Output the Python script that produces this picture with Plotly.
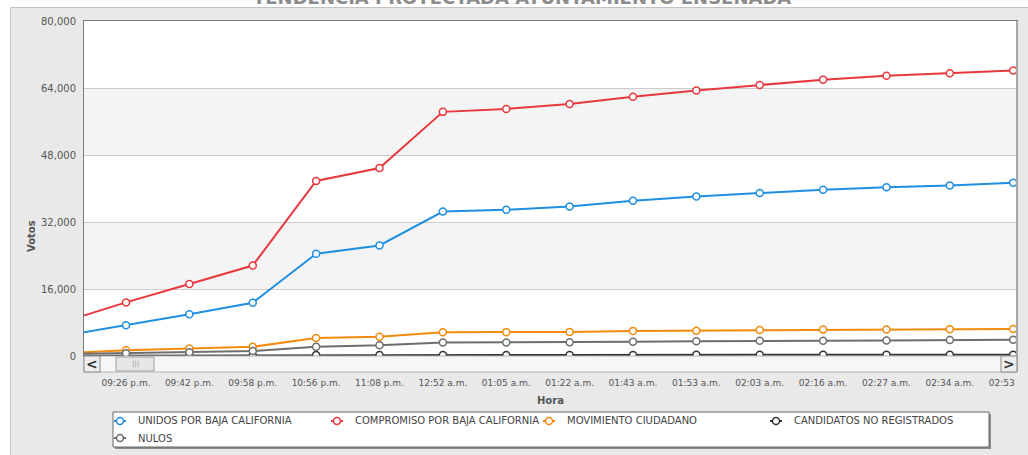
import plotly.graph_objects as go

# ---- data ----
hours = ["09:10 p.m.", "09:26 p.m.", "09:42 p.m.", "09:58 p.m.", "10:56 p.m.", "11:08 p.m.",
         "12:52 a.m.", "01:05 a.m.", "01:22 a.m.", "01:43 a.m.", "01:53 a.m.", "02:03 a.m.",
         "02:16 a.m.", "02:27 a.m.", "02:34 a.m.", "02:53 a.m."]
unidos = [4800, 7350, 9950, 12700, 24400, 26400, 34500, 34900, 35700, 37100, 38100, 38900,
          39700, 40300, 40700, 41400]
compromiso = [8100, 12800, 17200, 21600, 41800, 44900, 58300, 59000, 60200, 61900, 63400,
              64700, 66000, 66900, 67500, 68200]
movimiento = [670, 1350, 1800, 2200, 4300, 4600, 5650, 5700, 5750, 6000, 6050, 6200, 6300,
              6350, 6380, 6450]
no_registrados = [40, 90, 130, 170, 210, 230, 250, 255, 260, 265, 270, 272, 275, 280, 283, 288]
nulos = [420, 640, 900, 1200, 2200, 2550, 3250, 3250, 3300, 3400, 3500, 3650, 3650, 3700,
         3800, 3900]

series_names = ["UNIDOS POR BAJA CALIFORNIA", "COMPROMISO POR BAJA CALIFORNIA",
                "MOVIMIENTO CIUDADANO", "CANDIDATOS NO REGISTRADOS", "NULOS"]
series_values = [unidos, compromiso, movimiento, no_registrados, nulos]
series_colors = ["#1e8fe1", "#e8383d", "#f28a0f", "#333333", "#6e6e6e"]

y_ticks = [0, 16000, 32000, 48000, 64000, 80000]
title_text = "TENDENCIA PROYECTADA AYUNTAMIENTO ENSENADA"

FONT = "DejaVu Sans"
W, H = 1028, 455
ML, MR, MT, MB = 84, 11, 21, 99
PW, PH = W - ML - MR, H - MT - MB
PANEL = "#e9e9e9"


def px_x(p):
    return (p - ML) / PW


def px_y(p):
    return (H - MB - p) / PH


idx = list(range(-1, len(hours) - 1))

fig = go.Figure()
for name, vals, col in zip(series_names, series_values, series_colors):
    fig.add_trace(go.Scatter(
        x=idx, y=vals, name=name, mode="lines+markers",
        line=dict(color=col, width=2),
        marker=dict(symbol="circle", size=7, color="white", line=dict(color=col, width=1.5)),
    ))

shapes = []
# white page strips outside the grey panel
shapes.append(dict(type="rect", xref="paper", yref="paper", layer="below",
                   x0=px_x(-5), x1=px_x(1035), y0=px_y(7), y1=px_y(-5),
                   fillcolor="white", line=dict(width=0)))
shapes.append(dict(type="rect", xref="paper", yref="paper", layer="below",
                   x0=px_x(-5), x1=px_x(10), y0=px_y(460), y1=px_y(-5),
                   fillcolor="white", line=dict(width=0)))
# panel border lines
shapes.append(dict(type="line", xref="paper", yref="paper", layer="below",
                   x0=px_x(10), x1=px_x(1030), y0=px_y(7.5), y1=px_y(7.5),
                   line=dict(color="#c4c4c4", width=1)))
shapes.append(dict(type="line", xref="paper", yref="paper", layer="below",
                   x0=px_x(10.5), x1=px_x(10.5), y0=px_y(7.5), y1=px_y(460),
                   line=dict(color="#c4c4c4", width=1)))
# white plot area
shapes.append(dict(type="rect", xref="paper", yref="paper", layer="below",
                   x0=0, x1=1, y0=0, y1=1, fillcolor="white", line=dict(width=0)))
# alternate bands
for a, b in [(16000, 32000), (48000, 64000)]:
    shapes.append(dict(type="rect", xref="paper", yref="y", layer="below",
                       x0=0, x1=1, y0=a, y1=b, fillcolor="#f4f4f4", line=dict(width=0)))
# right plot border (thicker grey)
shapes.append(dict(type="line", xref="paper", yref="paper", layer="above",
                   x0=1, x1=1, y0=px_y(372), y1=1, line=dict(color="#a8a8a8", width=2)))
# scrollbar track
shapes.append(dict(type="rect", xref="paper", yref="paper", layer="above",
                   x0=0, x1=1, y0=px_y(356), y1=px_y(372),
                   fillcolor="#f6f6f6", line=dict(color="#b5b5b5", width=1)))
# left button
shapes.append(dict(type="rect", xref="paper", yref="paper", layer="above",
                   x0=0, x1=px_x(100), y0=px_y(356), y1=px_y(372),
                   fillcolor="#eeeeee", line=dict(color="#8a8a8a", width=1)))
# right button
shapes.append(dict(type="rect", xref="paper", yref="paper", layer="above",
                   x0=px_x(1001), x1=1, y0=px_y(356), y1=px_y(372),
                   fillcolor="#eeeeee", line=dict(color="#8a8a8a", width=1)))
# thumb
shapes.append(dict(type="rect", xref="paper", yref="paper", layer="above",
                   x0=px_x(116), x1=px_x(154), y0=px_y(357), y1=px_y(371),
                   fillcolor="#e6e6e6", line=dict(color="#a0a0a0", width=1)))
# cover the overflow of the last tick label (clipped in reference)
shapes.append(dict(type="rect", xref="paper", yref="paper", layer="above",
                   x0=px_x(1017), x1=px_x(1035), y0=px_y(373), y1=px_y(392),
                   fillcolor=PANEL, line=dict(width=0)))
# legend box with shadow
shapes.append(dict(type="rect", xref="paper", yref="paper", layer="below",
                   x0=px_x(115), x1=px_x(991), y0=px_y(449), y1=px_y(414),
                   fillcolor="#8c8c8c", line=dict(width=0)))
shapes.append(dict(type="rect", xref="paper", yref="paper", layer="below",
                   x0=px_x(113), x1=px_x(989), y0=px_y(447), y1=px_y(412),
                   fillcolor="white", line=dict(color="#666666", width=1)))

annotations = [
    dict(text=title_text, xref="paper", yref="paper", x=px_x(522), y=px_y(10),
         xanchor="center", yanchor="bottom", showarrow=False,
         font=dict(family=FONT, size=18, color="#8c8c8c", weight="bold")),
    dict(text="Votos", xref="paper", yref="paper", x=px_x(31), y=px_y(236),
         xanchor="center", yanchor="middle", showarrow=False, textangle=-90,
         font=dict(family=FONT, size=10, color="#555555", weight="bold")),
    dict(text="Hora", xref="paper", yref="paper", x=px_x(550), y=px_y(400),
         xanchor="center", yanchor="middle", showarrow=False,
         font=dict(family=FONT, size=10, color="#555555", weight="bold")),
    dict(text="<", xref="paper", yref="paper", x=px_x(92), y=px_y(364),
         xanchor="center", yanchor="middle", showarrow=False,
         font=dict(family=FONT, size=14, color="#333333", weight="bold")),
    dict(text=">", xref="paper", yref="paper", x=px_x(1009), y=px_y(364),
         xanchor="center", yanchor="middle", showarrow=False,
         font=dict(family=FONT, size=14, color="#333333", weight="bold")),
    dict(text="|||", xref="paper", yref="paper", x=px_x(135), y=px_y(364),
         xanchor="center", yanchor="middle", showarrow=False,
         font=dict(family=FONT, size=7, color="#999999")),
]

# hand-built legend (positions in pixels)
leg_pos = [(120, 421), (337, 421), (549, 421), (776, 421), (120, 438)]
for (cx, cy), name, col in zip(leg_pos, series_names, series_colors):
    shapes.append(dict(type="line", xref="paper", yref="paper", layer="below",
                       x0=px_x(cx - 6), x1=px_x(cx + 6), y0=px_y(cy), y1=px_y(cy),
                       line=dict(color=col, width=2)))
    shapes.append(dict(type="circle", xref="paper", yref="paper", layer="below",
                       x0=px_x(cx - 3.5), x1=px_x(cx + 3.5), y0=px_y(cy + 3.5), y1=px_y(cy - 3.5),
                       fillcolor="white", line=dict(color=col, width=1.5)))
    annotations.append(dict(text=name, xref="paper", yref="paper", x=px_x(cx + 16), y=px_y(cy),
                            xanchor="left", yanchor="middle", showarrow=False,
                            font=dict(family=FONT, size=10, color="#444444")))

fig.update_layout(
    width=W, height=H,
    margin=dict(l=ML, r=MR, t=MT, b=MB, autoexpand=False),
    paper_bgcolor=PANEL, plot_bgcolor="white",
    font=dict(family=FONT, size=10, color="#555555"),
    shapes=shapes, annotations=annotations,
    showlegend=False,
)
fig.update_xaxes(range=[-0.663, 14.06], tickmode="array", tickvals=idx, ticktext=hours,
                 showgrid=False, zeroline=False, ticks="outside", ticklen=18,
                 ticklabeloverflow="allow",
                 tickcolor="rgba(0,0,0,0)", tickfont=dict(family=FONT, size=9, color="#555555"),
                 showline=True, linecolor="#777777", linewidth=1, mirror=True)
fig.update_yaxes(range=[0, 80000], tickmode="array", tickvals=y_ticks, tickformat=",",
                 showgrid=True, gridcolor="#cccccc", gridwidth=1, zeroline=False,
                 ticks="outside", ticklen=5, tickcolor="rgba(0,0,0,0)",
                 tickfont=dict(family=FONT, size=10, color="#555555"),
                 showline=True, linecolor="#777777", linewidth=1, mirror=True)

fig.write_html("out.html", config={"displayModeBar": False},
               post_script="document.body.style.margin='0px';")
